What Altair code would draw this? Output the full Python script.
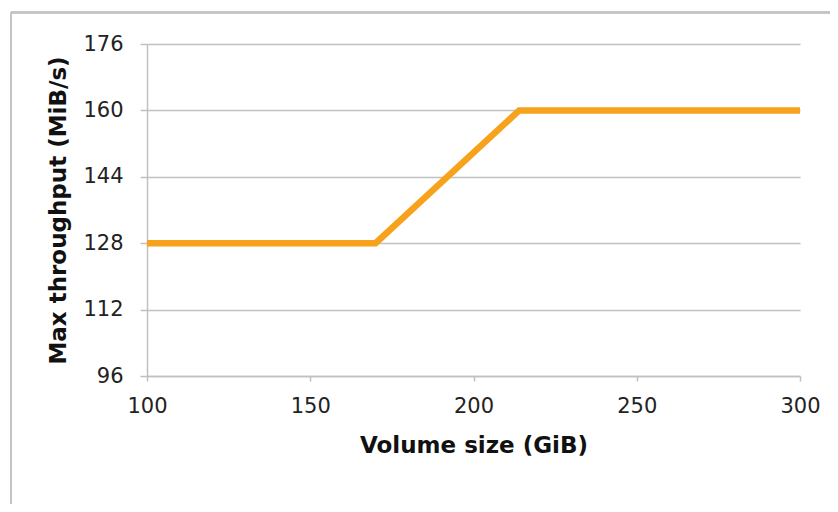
import altair as alt
import pandas as pd

sizes = [100, 170, 214, 300]
throughput = [128, 128, 160, 160]
x_ticks = [100, 150, 200, 250, 300]
y_ticks = [96, 112, 128, 144, 160, 176]

df = pd.DataFrame({"size": sizes, "throughput": throughput})

FONT = "DejaVu Sans"
GRID = "#c0c0c0"

line = alt.Chart(df).mark_line(
    color="#F7A21C", strokeWidth=6.5, strokeCap="butt", strokeJoin="miter"
).encode(
    x=alt.X("size:Q", scale=alt.Scale(domain=[100, 300], nice=False),
            axis=alt.Axis(values=x_ticks, title="Volume size (GiB)", grid=False,
                          labelFlush=False, labelOverlap=False,
                          tickSize=5, labelPadding=14, titlePadding=18)),
    y=alt.Y("throughput:Q", scale=alt.Scale(domain=[96, 176], nice=False, zero=False),
            axis=alt.Axis(values=y_ticks, title="Max throughput (MiB/s)", grid=True,
                          labelFlush=False,
                          tickSize=7, labelPadding=17, titlePadding=12)),
)

border_left = alt.Chart(df).mark_rule(color="#c4c4c4", strokeWidth=2).encode(
    x=alt.value(-136), y=alt.value(-31.5), y2=alt.value(480)
)
border_top = alt.Chart(df).mark_rule(color="#c4c4c4", strokeWidth=2).encode(
    x=alt.value(-136), x2=alt.value(700), y=alt.value(-31.5)
)

chart = alt.layer(border_left, border_top, line).properties(
    width=653, height=332,
    autosize=alt.AutoSizeParams(type="none"),
    padding={"left": 139, "top": 36, "right": 30, "bottom": 128},
).configure_view(stroke=None).configure_axis(
    labelFont=FONT, titleFont=FONT, labelFontSize=21, titleFontSize=23,
    labelColor="#222222", titleColor="#111111", titleFontWeight="bold",
    domainColor=GRID, tickColor=GRID, gridColor=GRID,
    domainWidth=1.5, tickWidth=1.5, gridWidth=1.5,
)

chart.save("out.html", embed_options={"renderer": "svg", "actions": False})
